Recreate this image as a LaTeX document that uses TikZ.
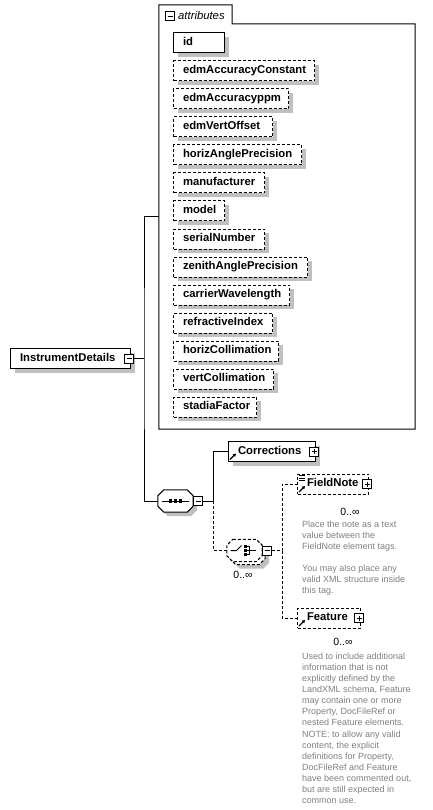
\documentclass[tikz,border=0pt]{standalone}
\usepackage{fontspec}
\setmainfont{Liberation Sans}
\usetikzlibrary{shadows,arrows.meta,backgrounds,fit}
\definecolor{shadowc}{RGB}{192,192,192}
\definecolor{docc}{RGB}{128,128,128}
\begin{document}
\begin{tikzpicture}[x=1pt,y=-1pt,
  lbl/.style={font=\fontsize{11.3}{13}\selectfont\bfseries},
  elem/.style={draw, line width=1pt, fill=white, inner xsep=9.5pt, inner ysep=0pt, minimum height=20pt, text height=8pt, text depth=2.5pt, align=left, anchor=west, lbl},
  optl/.style={dash pattern=on 3pt off 2pt},
  shad/.style={drop shadow={shadow xshift=4pt, shadow yshift=-4pt, fill=shadowc, opacity=1}},
  btn/.style={draw, line width=0.8pt, fill=white, minimum size=9pt, inner sep=0pt},
  minusbtn/.style={btn, path picture={\draw[line width=0.8pt] ([xshift=2pt]path picture bounding box.west) -- ([xshift=-2pt]path picture bounding box.east);}},
  plusbtn/.style={btn, path picture={\draw[line width=0.8pt] ([xshift=2pt]path picture bounding box.west) -- ([xshift=-2pt]path picture bounding box.east); \draw[line width=0.8pt] ([yshift=-2pt]path picture bounding box.north) -- ([yshift=2pt]path picture bounding box.south);}},
  conn/.style={line width=1pt},
  doc/.style={text=docc, font=\fontsize{9}{11.1}\selectfont, align=left, anchor=north west, inner sep=0pt},
  occ/.style={font=\fontsize{10.5}{12}\selectfont, inner sep=0pt},
  refarr/.style={line width=1.1pt, -{Triangle[length=3pt,width=3.5pt]}},
  octa/.style={insert path={([xshift=6pt]#1.north west) -- ([xshift=-6pt]#1.north east) -- ([yshift=-6pt]#1.north east) -- ([yshift=6pt]#1.south east) -- ([xshift=-6pt]#1.south east) -- ([xshift=6pt]#1.south west) -- ([yshift=6pt]#1.south west) -- ([yshift=-6pt]#1.north west) -- cycle}},
  hid/.style={draw=none, inner sep=0pt, minimum width=35pt, minimum height=22pt}
]
\fill[white] (0,0) rectangle (432,810);
\path[use as bounding box] (0,0) rectangle (432,810);

% attributes container
\node[draw=none, inner sep=0pt, fit={(159,5) (415,429)}] (attr) {};
\draw[line width=1pt] (attr.north west) -- (232,5) -- (232,24) -- (415,24) -- (attr.south east) -- (attr.south west) -- cycle;
\node[minusbtn] (attrbtn) at (170,16) {};
\node[anchor=base west, font=\fontsize{11.3}{13}\selectfont\itshape, inner sep=0pt] (attrlbl) at (178,20) {attributes};

\node[elem, shad, text width=32pt] (a0) at (173,43) {\mbox{id}};
\foreach \nm/\w [count=\i from 1] in {edmAccuracyConstant/122, edmAccuracyppm/96, edmVertOffset/80, horizAnglePrecision/109, manufacturer/72, model/32, serialNumber/72, zenithAnglePrecision/115, carrierWavelength/97, refractiveIndex/80, horizCollimation/86, vertCollimation/81, stadiaFactor/64}
  \node[elem, shad, optl, text width=\w pt] (a\i) at (173,43+28*\i) {\mbox{\nm}};

% InstrumentDetails
\node[elem, shad, text width=101pt] (idet) at (10,358.5) {InstrumentDetails};
\node[minusbtn] (idbtn) at (129,358.5) {};

% sequence
\node[hid] (seq) at (175.5,501) {};
\fill[shadowc, transform canvas={xshift=4pt,yshift=-4pt}] [octa=seq];
\filldraw[fill=white, line width=1pt] [octa=seq];
\draw[line width=1pt] ([xshift=4pt]seq.west) -- ([xshift=-4pt]seq.east);
\foreach \dx in {-5,0,5} \fill ([xshift=\dx pt]seq.center) +(-1.6,-1.6) rectangle +(1.6,1.6);
\node[minusbtn] (seqbtn) at (198,501) {};

% Corrections
\node[elem, shad, text width=68pt] (corr) at (228,451.5) {Corrections};
\node[plusbtn] (corrbtn) at (314,451.5) {};
\draw[refarr] ([xshift=2pt,yshift=2.5pt]corr.south west) -- ++(6,-6);

% choice
\node[hid] (choice) at (244.5,550.5) {};
\fill[shadowc, transform canvas={xshift=7pt,yshift=-7pt}] [octa=choice];
\filldraw[fill=white, line width=1pt, optl, transform canvas={xshift=3pt,yshift=-3pt}] [octa=choice];
\filldraw[fill=white, line width=1pt, optl] [octa=choice];
\draw[line width=1pt] ([xshift=-14pt]choice.center) -- ([xshift=-8pt]choice.center) -- ([xshift=-3pt,yshift=5pt]choice.center);
\foreach \dy in {-4,0,4} \fill ([xshift=1pt,yshift=\dy pt]choice.center) +(-1.4,-1.4) rectangle +(1.4,1.4);
\draw[line width=0.8pt] ([xshift=2pt,yshift=4pt]choice.center) -- ([xshift=5pt,yshift=4pt]choice.center) -- ([xshift=5pt,yshift=-4pt]choice.center) -- ([xshift=2pt,yshift=-4pt]choice.center);
\draw[line width=0.8pt] ([xshift=2pt]choice.center) -- ([xshift=11pt]choice.center);
\node[minusbtn] (choicebtn) at (267,550.5) {};
\node[occ] (choiceocc) at (243,575) {0..∞};

% FieldNote
\node[elem, optl, text width=52pt] (fn) at (297,484) {FieldNote};
\begin{pgfonlayer}{background}
\fill[shadowc] ([xshift=7pt,yshift=-7pt]fn.north west) rectangle ([xshift=7pt,yshift=-7pt]fn.south east);
\filldraw[fill=white, line width=1pt, optl] ([xshift=3pt,yshift=-3pt]fn.north west) rectangle ([xshift=3pt,yshift=-3pt]fn.south east);
\end{pgfonlayer}
\node[plusbtn] (fnbtn) at (367,484) {};
\draw[refarr] ([xshift=2pt,yshift=2.5pt]fn.south west) -- ++(6,-6);
\foreach \yy in {2,4.5,7} \draw[line width=0.8pt] ([xshift=2pt,yshift=-\yy pt]fn.north west) -- ++(6,0);
\node[occ] (fnocc) at (350,512) {0..∞};
\node[doc] (fndoc) at (302,520.6) {Place the note as a text\\value between the\\FieldNote element tags.\\[11.1pt]You may also place any\\valid XML structure inside\\this tag.};

% Feature
\node[elem, optl, text width=44pt] (feat) at (297,618) {Feature};
\begin{pgfonlayer}{background}
\fill[shadowc] ([xshift=7pt,yshift=-7pt]feat.north west) rectangle ([xshift=7pt,yshift=-7pt]feat.south east);
\filldraw[fill=white, line width=1pt, optl] ([xshift=3pt,yshift=-3pt]feat.north west) rectangle ([xshift=3pt,yshift=-3pt]feat.south east);
\end{pgfonlayer}
\node[plusbtn] (featbtn) at (359,618) {};
\draw[refarr] ([xshift=2pt,yshift=2.5pt]feat.south west) -- ++(6,-6);
\node[occ] (featocc) at (343,642) {0..∞};
\node[doc] (featdoc) at (302,652.6) {Used to include additional\\information that is not\\explicitly defined by the\\LandXML schema, Feature\\may contain one or more\\Property, DocFileRef or\\nested Feature elements.\\NOTE: to allow any valid\\content, the explicit\\definitions for Property,\\DocFileRef and Feature\\have been commented out,\\but are still expected in\\common use.};

% connectors
\coordinate (trunk) at (144,358.5);
\draw[conn] (idbtn.east) -- (trunk);
\draw[conn] (attr.west) -| (trunk) |- (seq.west);
\coordinate (b1) at (213,501);
\draw[conn] (seqbtn.east) -- (b1) |- (corr.west);
\draw[conn, optl] (b1) |- (choice.west);
\coordinate (b2) at (282,550.5);
\draw[conn, optl] (choicebtn.east) -- (b2) |- (fn.west);
\draw[conn, optl] (b2) |- (feat.west);
\end{tikzpicture}
\end{document}
